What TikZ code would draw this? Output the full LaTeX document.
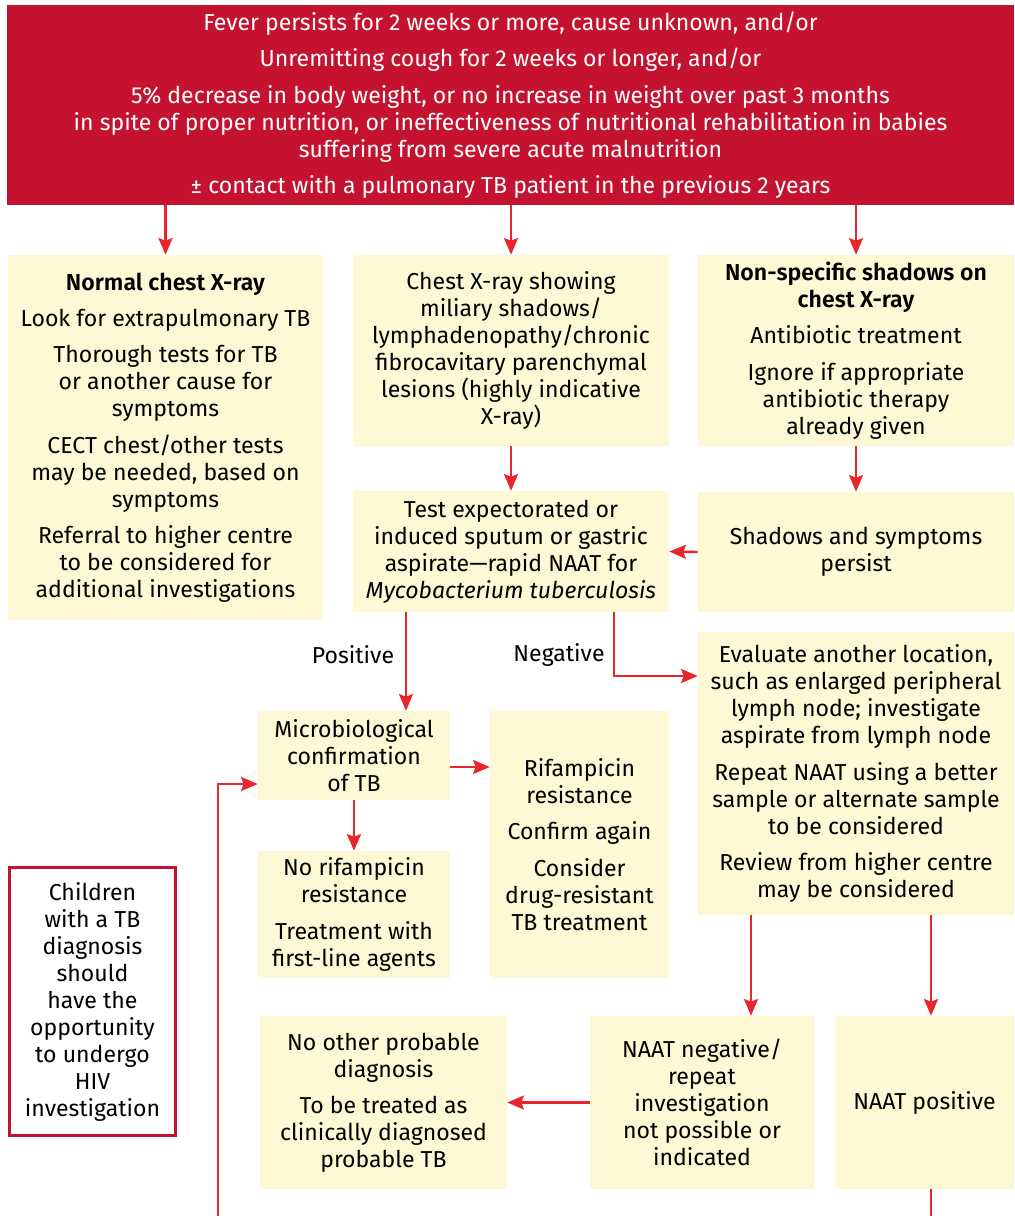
\documentclass[tikz,border=0pt]{standalone}
\usepackage{fontspec}
\setmainfont{Fira Sans}[BoldFont={Fira Sans SemiBold}]
\usetikzlibrary{arrows.meta,calc}
\definecolor{tbred}{HTML}{C41230}
\definecolor{arrred}{HTML}{E8262B}
\definecolor{pale}{HTML}{FEF9D4}
\newcommand{\gp}{\\[7pt]}
\begin{document}
\begin{tikzpicture}[x=0.75pt,y=-0.75pt,
  every node/.style={font=\fontsize{17.3}{20.25}\selectfont, align=center, inner sep=0pt},
  sz/.style 2 args={minimum width=#1*0.75pt, minimum height=#2*0.75pt},
  ybox/.style={fill=pale, text=black},
  redbox/.style={fill=tbred, text=white},
  notebox/.style={fill=white, draw=tbred, line width=2pt, text=black},
  arr/.style={draw=arrred, line width=1.8pt, -{Stealth[length=12.5pt,width=10.5pt,inset=2pt]}},
]
\useasboundingbox (0,0) rectangle (1014,1216);
\fill[white] (0,0) rectangle (1014,1216);

% presenting symptoms
\node[redbox, sz={1007}{200}] (top) at (510.5,105) {Fever persists for 2 weeks or more, cause unknown, and/or\gp
Unremitting cough for 2 weeks or longer, and/or\gp
5\% decrease in body weight, or no increase in weight over past 3 months\\
in spite of proper nutrition, or ineffectiveness of nutritional rehabilitation in babies\\
suffering from severe acute malnutrition\gp
± contact with a pulmonary TB patient in the previous 2 years};

% chest X-ray outcomes
\node[ybox, sz={315}{365}] (normal) at (165.5,437.5) {\textbf{Normal chest X-ray}\gp
Look for extrapulmonary TB\gp
Thorough tests for TB\\ or another cause for\\ symptoms\gp
CECT chest/other tests\\ may be needed, based on\\ symptoms\gp
Referral to higher centre\\ to be considered for\\ additional investigations};

\node[ybox, sz={316}{191}] (miliary) at (511,350.5) {Chest X-ray showing\\ miliary shadows/\\ lymphadenopathy/chronic\\ fibrocavitary parenchymal\\ lesions (highly indicative\\ X-ray)};

\node[ybox, sz={316}{191}] (nonspec) at (856,350.5) {\textbf{Non-specific shadows on}\\ \textbf{chest X-ray}\gp
Antibiotic treatment\gp
Ignore if appropriate\\ antibiotic therapy\\ already given};

% testing
\node[ybox, sz={316}{121}] (naat) at (511,551.5) {Test expectorated or\\ induced sputum or gastric\\ aspirate---rapid NAAT for\\ \textit{Mycobacterium tuberculosis}};

\node[ybox, sz={316}{120}] (persist) at (856,552) {Shadows and symptoms\\ persist};

\node[ybox, sz={316}{283}] (evaluate) at (856,773.5) {Evaluate another location,\\ such as enlarged peripheral\\ lymph node; investigate\\ aspirate from lymph node\gp
Repeat NAAT using a better\\ sample or alternate sample\\ to be considered\gp
Review from higher centre\\ may be considered};

% results
\node[ybox, sz={192}{89}] (micro) at (354,755.5) {Microbiological\\ confirmation\\ of TB};

\node[ybox, sz={179}{267}] (rif) at (579.5,844.5) {Rifampicin\\ resistance\gp
Confirm again\gp
Consider\\ drug-resistant\\ TB treatment};

\node[ybox, sz={192}{127}] (norif) at (354,914.5) {No rifampicin\\ resistance\gp
Treatment with\\ first-line agents};

\node[notebox, sz={166}{268}] (hiv) at (92.5,1001.5) {Children\\ with a TB\\ diagnosis\\ should\\ have the\\ opportunity\\ to undergo\\ HIV\\ investigation};

\node[ybox, sz={247}{173}] (probable) at (383.5,1102.5) {No other probable\\ diagnosis\gp
To be treated as\\ clinically diagnosed\\ probable TB};

\node[ybox, sz={224}{173}] (naatneg) at (702,1102.5) {NAAT negative/\\ repeat\\ investigation\\ not possible or\\ indicated};

\node[ybox, sz={179}{173}] (naatpos) at (924.5,1102.5) {NAAT positive};

% helper coordinates for off-centre connectors
\coordinate (posX) at (406,0);
\coordinate (negX) at (614,0);
\coordinate (negY) at (0,676);
\coordinate (rifY) at (0,767);
\coordinate (leftX) at (751,0);
\coordinate (rightX) at (931,0);
\coordinate (loopY) at (0,784);
\coordinate (loopStart) at (218,1216);
\coordinate (posEnd) at (931,1216);

% connectors
\draw[arr] (top.south -| normal) -- (normal.north);
\draw[arr] (top.south -| miliary) -- (miliary.north);
\draw[arr] (top.south -| nonspec) -- (nonspec.north);
\draw[arr] (miliary.south) -- (naat.north);
\draw[arr] (nonspec.south) -- (persist.north);
\draw[arr] (persist.west) -- (naat.east);
\draw[arr] (naat.south -| posX) -- (micro.north -| posX);
\draw[arr] (naat.south -| negX) |- (evaluate.west |- negY);
\draw[arr] (micro.east |- rifY) -- (rif.west |- rifY);
\draw[arr] (micro.south) -- (norif.north);
\draw[arr] (evaluate.south -| leftX) -- (naatneg.north -| leftX);
\draw[arr] (evaluate.south -| rightX) -- (naatpos.north -| rightX);
\draw[arr] (naatneg.west) -- (probable.east);
\draw[draw=arrred, line width=1.8pt] (naatpos.south -| rightX) -- (posEnd);
\draw[arr] (loopStart) |- (micro.west |- loopY);

% edge labels
\node (poslabel) at (353,655) {Positive};
\node (neglabel) at (559,655) {Negative};
\end{tikzpicture}
\end{document}
